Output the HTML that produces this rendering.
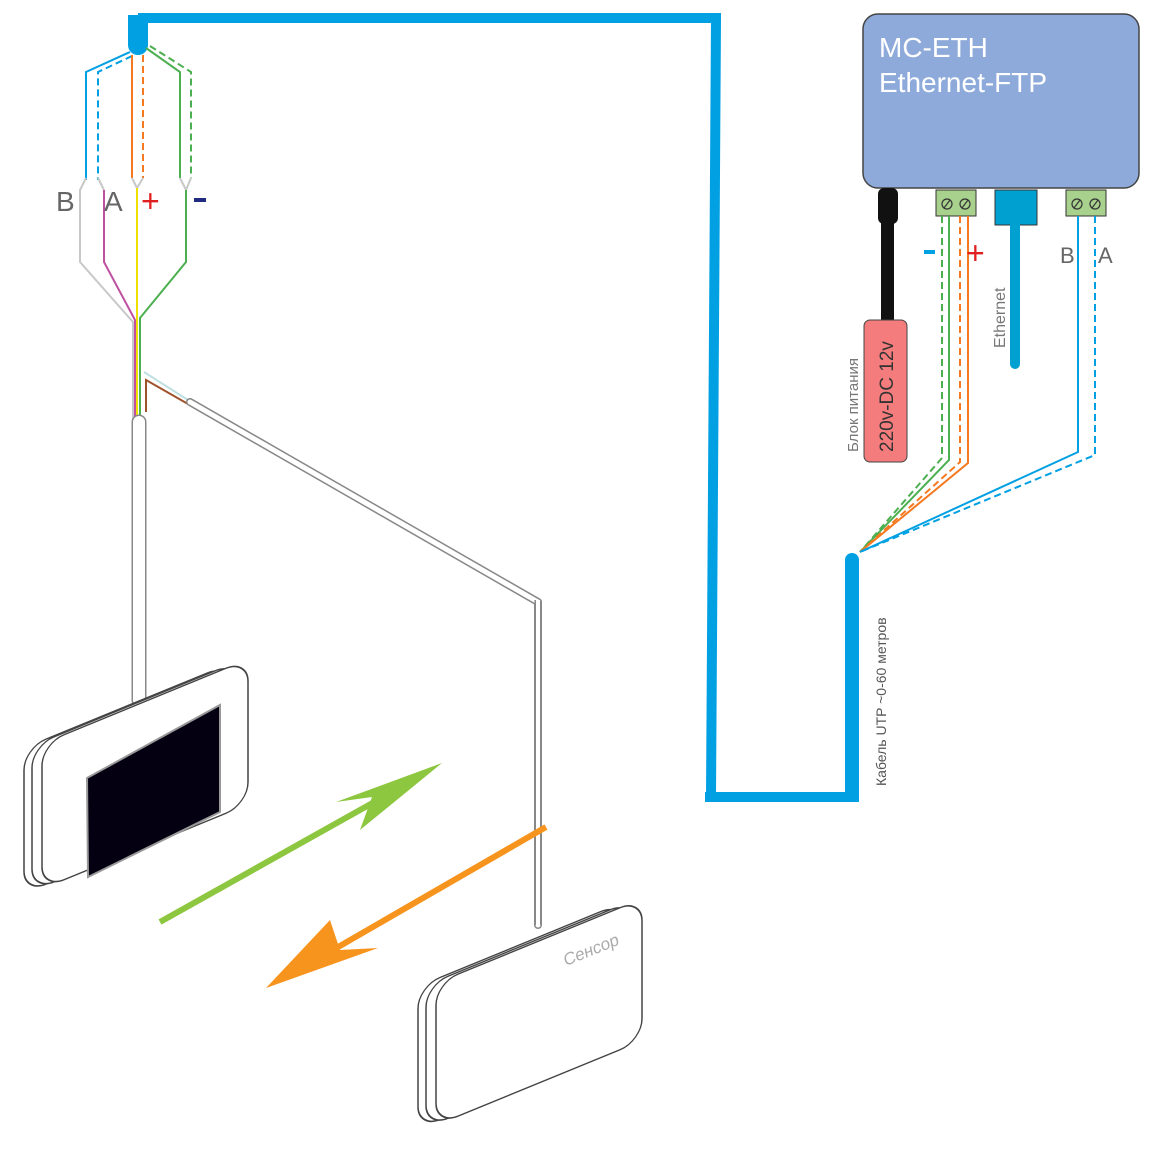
<!DOCTYPE html>
<html><head><meta charset="utf-8"><style>
html,body{margin:0;padding:0;background:#fff}
svg{display:block}
text{font-family:"Liberation Sans","DejaVu Sans",sans-serif}
</style></head><body>
<svg width="1160" height="1160" viewBox="0 0 1160 1160" xmlns="http://www.w3.org/2000/svg">
<!-- main blue cable -->
<polyline points="138,18 716,18 711,797" fill="none" stroke="#00a0e3" stroke-width="10"/>
<line x1="705" y1="797" x2="856" y2="797" stroke="#00a0e3" stroke-width="10"/>
<path d="M128,15 H148 V45 A10,10 0 0 1 128,45 Z" fill="#00a0e3"/>
<path d="M845,560 A7,7 0 0 1 859,560 V802 H845 Z" fill="#00a0e3"/>

<!-- left top wires -->
<g fill="none" stroke-width="2">
<polyline points="130,52 86,72 86,180" stroke="#00a0e3"/>
<polyline points="132,56 98,72 98,180" stroke="#00a0e3" stroke-dasharray="7,4"/>
<polyline points="132,55 132,178" stroke="#f47920"/>
<polyline points="143,55 143,178" stroke="#f47920" stroke-dasharray="7,4"/>
<polyline points="146,48 180,72 180,178" stroke="#4caf50"/>
<polyline points="150,46 191,72 191,178" stroke="#4caf50" stroke-dasharray="7,4"/>
<polyline points="86,178 80,190 80,262 133,322 133,420" stroke="#c8c8c8"/>
<polyline points="98,178 104,190" stroke="#c8c8c8"/>
<polyline points="104,190 104,262 135,320 135,420" stroke="#c050a0"/>
<polyline points="132,178 137,188 143,178" stroke="#c8c8c8"/>
<polyline points="137,188 137,420" stroke="#f0e000"/>
<polyline points="180,178 186,190 191,178" stroke="#c8c8c8"/>
<polyline points="186,190 186,262 140,318 140,420" stroke="#4caf50"/>
<polyline points="144,372 188,400" stroke="#bfe0e0"/>
<polyline points="146,412 146,380 188,404" stroke="#a0522d"/>
</g>
<!-- light tubes -->
<g fill="none" stroke-linecap="round">
<line x1="139" y1="422" x2="139" y2="700" stroke="#888" stroke-width="15"/>
<line x1="139" y1="422" x2="139" y2="700" stroke="#fff" stroke-width="12"/>
<polyline points="190,402 538,602 538,925" stroke="#888" stroke-width="8" stroke-linejoin="round"/>
<polyline points="190,402 538,602 538,925" stroke="#fff" stroke-width="5" stroke-linejoin="round"/>
</g>

<!-- display device -->
<g transform="skewY(-22.3)" stroke="#444" stroke-width="1.5">
<rect x="24" y="758" width="205" height="145" rx="22" fill="#fff"/>
<rect x="32" y="759" width="205" height="145" rx="22" fill="#fff"/>
<rect x="42" y="761" width="206" height="145" rx="22" fill="#fff"/>
</g>
<polygon points="87,778 220,705 220,812 88,877" fill="#050011" stroke="#999" stroke-width="2"/>

<!-- sensor device -->
<g transform="skewY(-22.3)" stroke="#444" stroke-width="1.5">
<rect x="418" y="1158" width="205" height="142" rx="22" fill="#fff"/>
<rect x="426" y="1160" width="206" height="142" rx="22" fill="#fff"/>
<rect x="436" y="1162" width="206" height="142" rx="22" fill="#fff"/>
</g>
<text x="0" y="0" transform="translate(566,966) rotate(-22)" font-size="17" font-style="italic" fill="#aaa">Сенсор</text>
<line x1="538" y1="600" x2="538" y2="925" stroke="#888" stroke-width="7"/>
<line x1="538" y1="600" x2="538" y2="925" stroke="#fff" stroke-width="4"/>

<!-- arrows -->
<line x1="160" y1="922" x2="410" y2="782" stroke="#8dc63f" stroke-width="6"/>
<path d="M442,763 L360,830 L372,797 L336,802 Z" fill="#8dc63f"/>
<line x1="546" y1="827" x2="300" y2="969" stroke="#f7941d" stroke-width="6"/>
<path d="M266,988 L330,920 L340,950 L378,948 Z" fill="#f7941d"/>

<!-- module -->
<rect x="863" y="14" width="276" height="174" rx="15" fill="#8eaadb" stroke="#444" stroke-width="1.5"/>
<text x="879" y="57" font-size="28" fill="#fff">MC-ETH</text>
<text x="879" y="92" font-size="28" fill="#fff">Ethernet-FTP</text>

<!-- power -->
<rect x="878" y="188" width="20" height="36" rx="6" fill="#111"/>
<rect x="881" y="215" width="13" height="110" fill="#111"/>
<rect x="864" y="320" width="43" height="142" rx="6" fill="#f47c7c" stroke="#444"/>
<text transform="translate(893,452) rotate(-90)" font-size="19" fill="#333">220v-DC 12v</text>
<text transform="translate(858,452) rotate(-90)" font-size="15" fill="#777">Блок питания</text>

<!-- terminals -->
<g stroke="#333" stroke-width="1">
<rect x="936" y="190" width="40" height="26" fill="#a9d18e"/>
<rect x="1066" y="190" width="40" height="26" fill="#a9d18e"/>
</g>
<g fill="none" stroke="#333" stroke-width="1.2">
<circle cx="947" cy="204" r="5"/><line x1="944" y1="208" x2="950" y2="200"/>
<circle cx="965" cy="204" r="5"/><line x1="962" y1="208" x2="968" y2="200"/>
<circle cx="1077" cy="204" r="5"/><line x1="1074" y1="208" x2="1080" y2="200"/>
<circle cx="1095" cy="204" r="5"/><line x1="1092" y1="208" x2="1098" y2="200"/>
</g>
<rect x="995" y="190" width="42" height="35" fill="#00a0d0" stroke="#333"/>
<line x1="1015" y1="225" x2="1015" y2="364" stroke="#00a0d0" stroke-width="10" stroke-linecap="round"/>
<text transform="translate(1005,348) rotate(-90)" font-size="16" fill="#777">Ethernet</text>

<!-- right wires -->
<g fill="none" stroke-width="2">
<polyline points="942,216 942,458 860,552" stroke="#4caf50" stroke-dasharray="7,4"/>
<polyline points="949,216 949,460 860,552" stroke="#4caf50"/>
<polyline points="960,216 960,462 860,552" stroke="#f47920" stroke-dasharray="7,4"/>
<polyline points="968,216 968,463 860,552" stroke="#f47920"/>
<polyline points="1078,216 1078,452 860,552" stroke="#00a0e3"/>
<polyline points="1095,216 1095,455 860,552" stroke="#00a0e3" stroke-dasharray="7,4"/>
</g>
<rect x="924" y="250" width="11" height="4" fill="#00a0e3"/>
<text x="966" y="264" font-size="32" fill="#e02020">+</text>
<text x="1060" y="263" font-size="22" fill="#666">B</text>
<text x="1098" y="263" font-size="22" fill="#666">A</text>
<text transform="translate(886,786) rotate(-90)" font-size="14" fill="#555">Кабель UTP   ~0-60 метров</text>

<!-- left labels -->
<text x="56" y="211" font-size="28" fill="#666">B</text>
<text x="104" y="211" font-size="28" fill="#666">A</text>
<text x="141" y="212" font-size="32" fill="#e02020">+</text>
<rect x="194" y="198" width="12" height="4" fill="#222a80"/>
</svg>
</body></html>
